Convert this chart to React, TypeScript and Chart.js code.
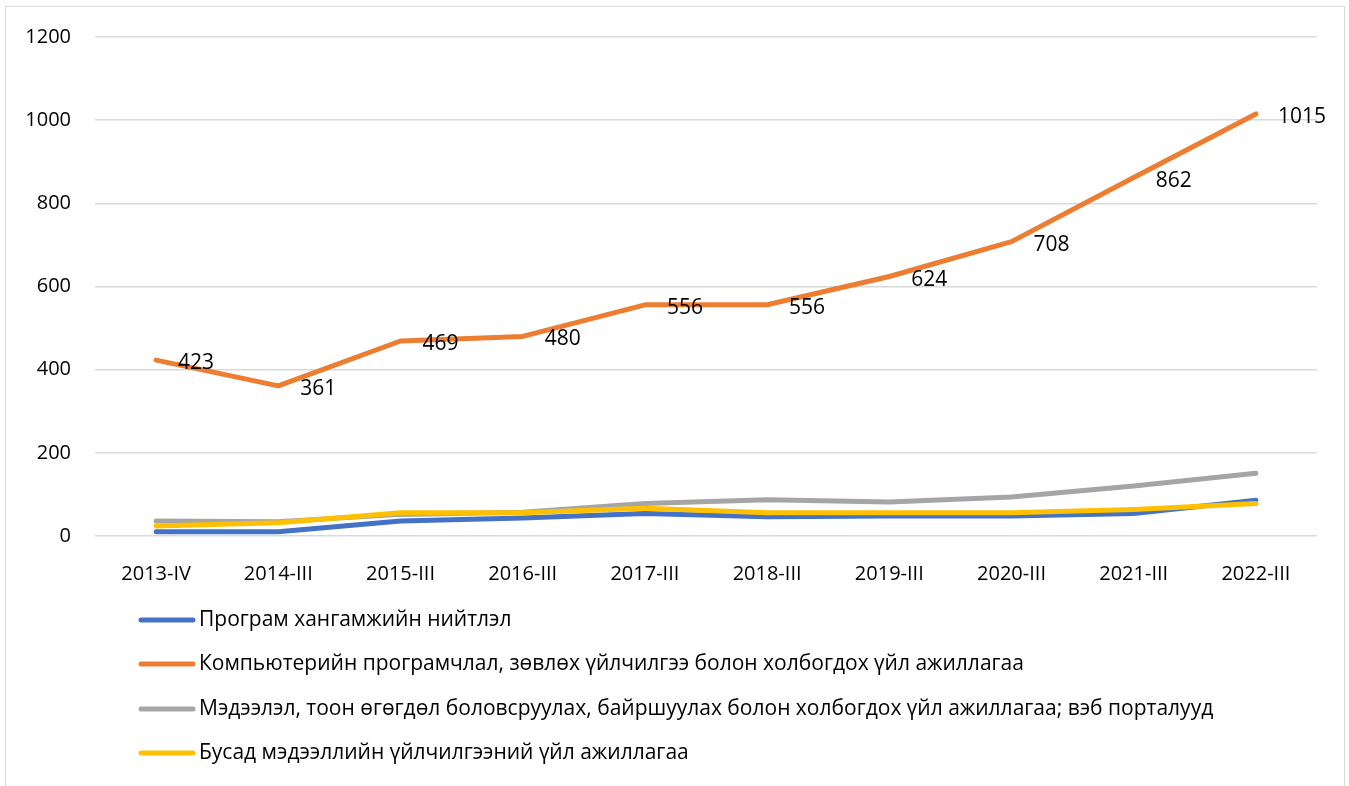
import React, { useEffect, useRef } from "react";
import { Chart, registerables } from "chart.js";

Chart.register(...registerables);

const categories = ["2013-IV", "2014-III", "2015-III", "2016-III", "2017-III", "2018-III", "2019-III", "2020-III", "2021-III", "2022-III"];
const softwarePublishing = [10, 10, 36, 43, 54, 46, 48, 48, 54, 86];
const programming = [423, 361, 469, 480, 556, 556, 624, 708, 862, 1015];
const dataProcessing = [36, 34, 52, 57, 78, 87, 82, 94, 120, 151];
const otherInfo = [24, 32, 56, 56, 67, 56, 56, 56, 64, 78];
const seriesNames = [
  "Програм хангамжийн нийтлэл",
  "Компьютерийн програмчлал, зөвлөх үйлчилгээ болон холбогдох үйл ажиллагаа",
  "Мэдээлэл, тоон өгөгдөл боловсруулах, байршуулах болон холбогдох үйл ажиллагаа; вэб порталууд",
  "Бусад мэдээллийн үйлчилгээний үйл ажиллагаа",
];
const colors = ["#4472C4", "#ED7D31", "#A5A5A5", "#FFC000"];
const yTicks = [0, 200, 400, 600, 800, 1000, 1200];

const FONT = "'Open Sans', 'Noto Sans', sans-serif";

export default function App() {
  const ref = useRef<HTMLCanvasElement>(null);
  useEffect(() => {
    const labelPlugin = {
      id: "customLabels",
      afterDatasetsDraw(chart: any) {
        const ctx = chart.ctx;
        const meta = chart.getDatasetMeta(1);
        ctx.save();
        ctx.font = `21px ${FONT}`;
        ctx.fillStyle = "#000";
        ctx.textAlign = "left";
        ctx.textBaseline = "middle";
        meta.data.forEach((pt: any, i: number) => {
          ctx.fillText(String(programming[i]), pt.x + 22, pt.y + 3);
        });
        ctx.restore();
      },
      afterDraw(chart: any) {
        const ctx = chart.ctx;
        ctx.save();
        const rows = [620, 664, 709, 753];
        seriesNames.forEach((name, i) => {
          ctx.strokeStyle = colors[i];
          ctx.lineWidth = 5;
          ctx.lineCap = "round";
          ctx.beginPath();
          ctx.moveTo(141, rows[i]);
          ctx.lineTo(193, rows[i]);
          ctx.stroke();
          ctx.font = `21px ${FONT}`;
          ctx.fillStyle = "#000";
          ctx.textAlign = "left";
          ctx.textBaseline = "middle";
          ctx.fillText(name, 199, rows[i]);
        });
        ctx.restore();
      },
    };
    const mk = (data: number[], i: number, order: number) => ({
      label: seriesNames[i],
      data,
      borderColor: colors[i],
      backgroundColor: colors[i],
      borderWidth: 5,
      borderCapStyle: "round" as const,
      borderJoinStyle: "round" as const,
      pointRadius: 0,
      tension: 0,
      order,
    });
    const chart = new Chart(ref.current!, {
      type: "line",
      data: {
        labels: categories,
        datasets: [
          mk(softwarePublishing, 0, 4),
          mk(programming, 1, 1),
          mk(dataProcessing, 2, 3),
          mk(otherInfo, 3, 2),
        ],
      },
      options: {
        animation: false,
        responsive: false,
        layout: { padding: { top: 37, right: 32, bottom: 200, left: 0 } },
        plugins: { legend: { display: false }, tooltip: { enabled: false } },
        scales: {
          x: {
            offset: true,
            grid: { display: false },
            border: { display: false },
            ticks: { color: "#000", font: { family: FONT, size: 20 }, padding: 18, maxRotation: 0 },
            afterFit: (s: any) => { s.height = 50; },
          },
          y: {
            min: 0,
            max: 1200,
            afterBuildTicks: (s: any) => { s.ticks = yTicks.map((v) => ({ value: v })); },
            grid: { color: "#D9D9D9", lineWidth: 1.5, drawTicks: false },
            border: { display: false },
            ticks: { color: "#000", font: { family: FONT, size: 20 }, padding: 24, callback: (v: any) => String(v) },
            afterFit: (s: any) => { s.width = 95; },
          },
        },
      },
      plugins: [labelPlugin],
    });
    return () => chart.destroy();
  }, []);
  return (
    <div>
      <div style={{ position: "fixed", left: 5, top: 6, width: 1340, height: 800, border: "1.5px solid #D9D9D9", boxSizing: "border-box", background: "#fff" }} />
      <canvas ref={ref} width={1349} height={786} style={{ position: "fixed", left: 0, top: 0 }} />
    </div>
  );
}
